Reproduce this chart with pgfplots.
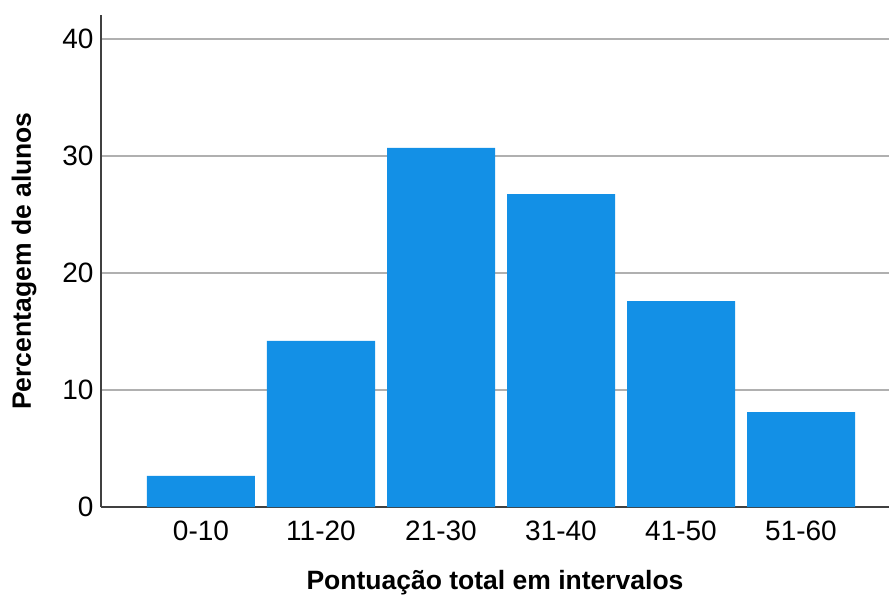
\documentclass[border=0pt]{standalone}
\usepackage{fontspec}
\setmainfont{Liberation Sans}
\usepackage{pgfplots}
\pgfplotsset{compat=1.18}
\definecolor{barblue}{RGB}{19,144,230}
\definecolor{gridgray}{RGB}{176,176,176}
\begin{document}
\begin{tikzpicture}
\useasboundingbox (-101bp,-92bp) rectangle (788bp,507bp);
\begin{axis}[
  at={(0,0)}, anchor=south west,
  scale only axis, width=788bp, height=492bp,
  xmin=-0.8333, xmax=5.7333, ymin=0, ymax=42.05,
  axis x line*=bottom, axis y line*=left,
  axis line style={-, draw=black!75, line width=1.2bp},
  ymajorgrids, grid style={gridgray, line width=1.2bp},
  major tick length=0pt,
  ytick={0,10,20,30,40},
  xtick={0,1,2,3,4,5},
  xticklabels={0-10,11-20,21-30,31-40,41-50,51-60},
  /pgf/number format/assume math mode=true,
  tick label style={font=\fontsize{28bp}{32bp}\selectfont},
  yticklabel style={xshift=-4bp},
  xticklabel style={yshift=-10bp},
  xlabel={Pontuação total em intervalos},
  ylabel={Percentagem de alunos},
  label style={font=\fontsize{26.5bp}{30bp}\selectfont\bfseries},
  xlabel style={at={(axis description cs:0.5,0)}, anchor=center, yshift=-76bp},
  ylabel style={at={(axis description cs:0,0.5)}, anchor=center, xshift=0bp, yshift=77bp},
  ybar, bar width=0.9,
]
\addplot[fill=barblue, draw=none] coordinates {(0,2.65) (1,14.2) (2,30.7) (3,26.75) (4,17.6) (5,8.1)};
\end{axis}
\end{tikzpicture}
\end{document}
